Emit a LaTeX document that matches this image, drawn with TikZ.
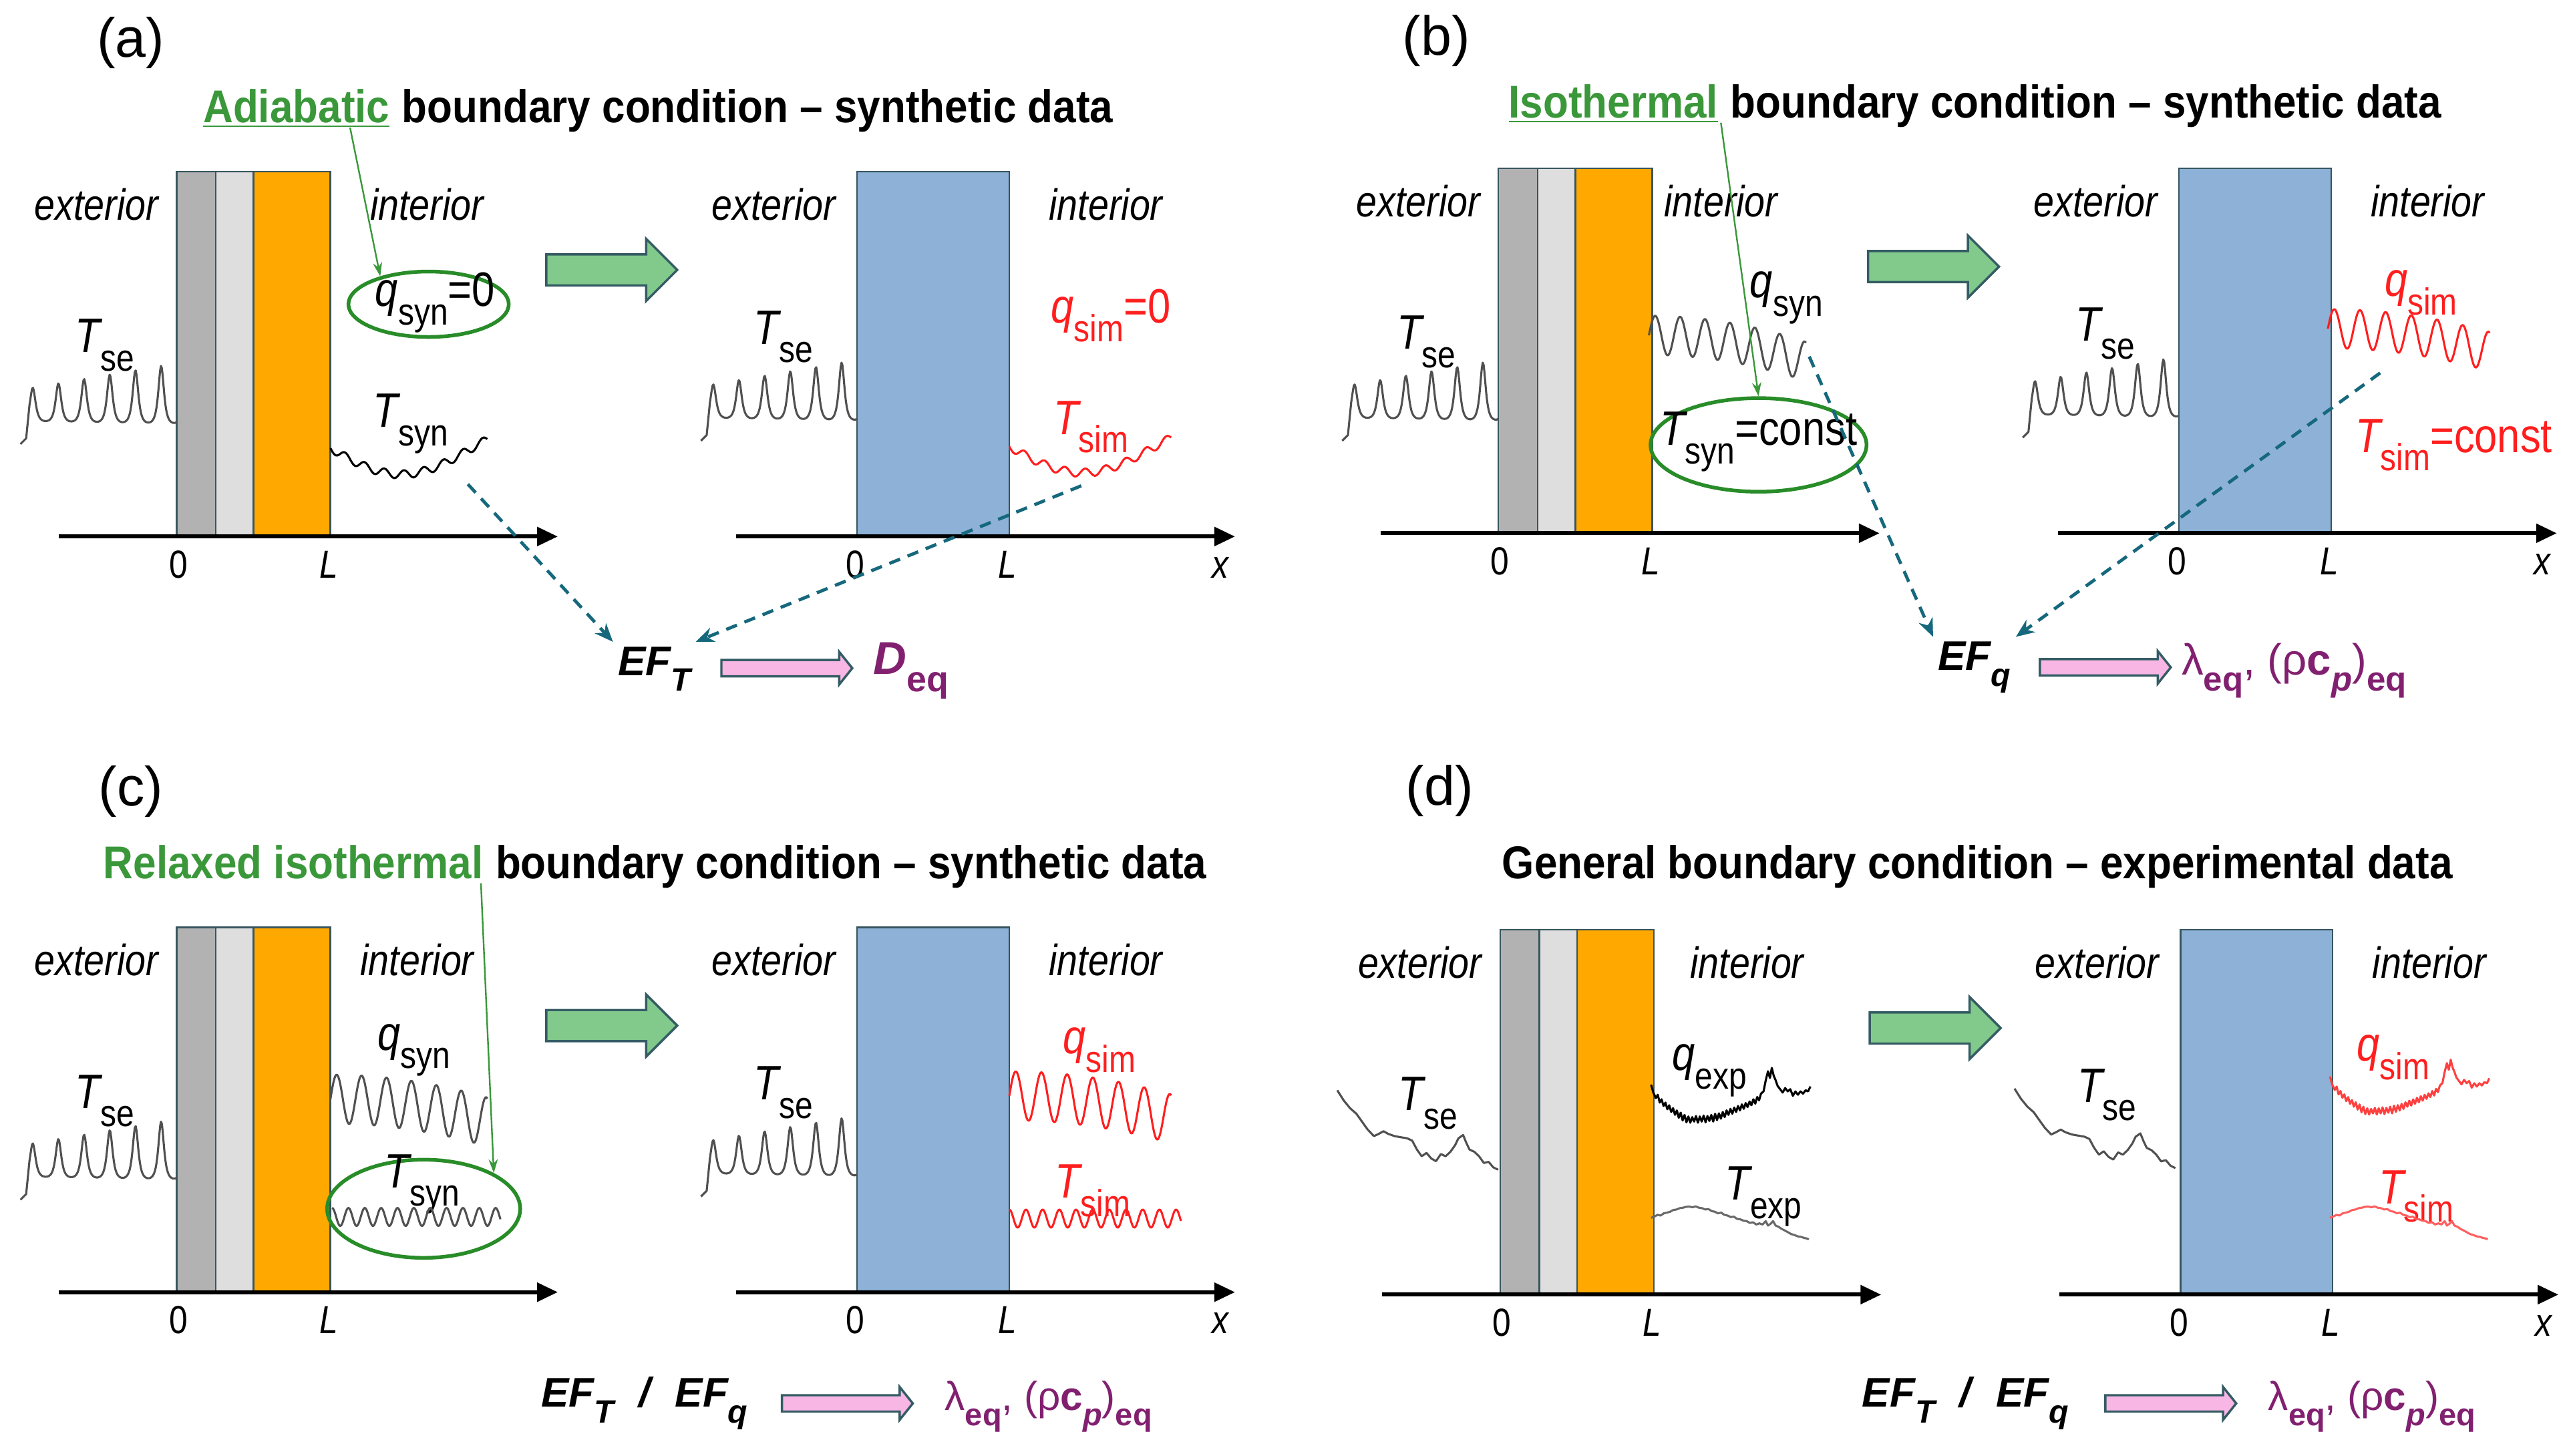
\documentclass[tikz,border=0pt]{standalone}
\usepackage{fontspec}
\usepackage{graphicx}
\setmainfont{Liberation Sans}
\newfontfamily\nfont{Liberation Sans}[FakeStretch=0.85]
\newfontfamily\tfont{Liberation Sans}[FakeStretch=0.9]
\usetikzlibrary{arrows.meta,shapes.geometric,calc}

\definecolor{ttgreen}{RGB}{58,152,58}
\definecolor{ellgreen}{RGB}{40,140,40}
\definecolor{barrowfill}{RGB}{130,201,140}
\definecolor{arrowedge}{RGB}{52,92,100}
\definecolor{wallorange}{RGB}{255,168,0}
\definecolor{wallgray}{RGB}{178,178,178}
\definecolor{walldot}{RGB}{222,222,222}
\definecolor{wallblue}{RGB}{141,177,215}
\definecolor{wallline}{RGB}{55,85,95}
\definecolor{simred}{RGB}{255,30,30}
\definecolor{simredlight}{RGB}{255,95,95}
\definecolor{sigray}{RGB}{80,80,80}
\definecolor{expgray}{RGB}{105,105,105}
\definecolor{dashteal}{RGB}{22,104,124}
\definecolor{pinkfill}{RGB}{247,182,228}
\definecolor{eqpurple}{RGB}{130,32,112}

\newcommand\sub[1]{\raisebox{-0.38em}{\scalebox{0.78}{#1}}}
\newcommand\var[2]{{\itshape #1}\sub{#2}}
\newcommand\EFx[1]{{\bfseries\itshape EF}\sub{\bfseries\itshape #1}}
\newcommand\lamtext{λ\sub{\bfseries eq}, (ρ{\bfseries c}\sub{\bfseries\itshape p})\sub{\bfseries eq}}
\newcommand\barrow[7]{\draw[#1] (#2,#4-#5) -- (#3-#7,#4-#5) -- (#3-#7,#4-#6) -- (#3,#4) -- (#3-#7,#4+#6) -- (#3-#7,#4+#5) -- (#2,#4+#5) -- cycle;}
\newcommand\synTse{%
  \draw[sig] (12.5,271.5) -- (16,268) -- plot[domain=18:108,samples=170] (\x,{259+0.03*(\x-20)-(22+0.2*(\x-20))/((1+1.3*(1-cos(22.93*(\x-20))))^2)});
  \begin{scope}[shift={(416,-2)}]
    \draw[sig] (12.5,271.5) -- (16,268) -- plot[domain=18:108,samples=170] (\x,{259+0.03*(\x-20)-(22+0.2*(\x-20))/((1+1.3*(1-cos(22.93*(\x-20))))^2)});
  \end{scope}}
\newcommand\panelbase[1]{%
  \fill[wallgray] (108,105) rectangle (132,328);
  \fill[walldot] (132,105) rectangle (155,328);
  \fill[wallorange] (155,105) rectangle (202,328);
  \draw[wallrect] (108,105) rectangle (202,328) (132,105) -- (132,328) (155,105) -- (155,328);
  \fill[wallblue] (524,105) rectangle (617,328);
  \draw[wallrect] (524,105) rectangle (617,328);
  \draw[axisline] (36,328) -- (341,328);
  \draw[axisline] (450,328) -- (755,328);
  \node[tick] (z1) at (109,345) {0};
  \node[tick] (l1) at (201,345) {\itshape L};
  \node[tick] (z2) at (523,345) {0};
  \node[tick] (l2) at (616,345) {\itshape L};
  \node[tick] (x2) at (746,347) {\itshape x};
  \node[side] (ext1) at (59,125) {exterior};
  \node[side] (int1) at (#1,125) {interior};
  \node[side] (ext2) at (473,125) {exterior};
  \node[side] (int2) at (676,125) {interior};
  \node[lab] (tse1) at (64,211) {\var{T}{se}};
  \node[lab] (tse2) at (479,206) {\var{T}{se}};
  \barrow{blockarrow}{334}{414}{165}{9.5}{19}{19}}

\newcommand\TseExpDraw{\draw[sig] (40,195) -- (60,240) -- (80,275) -- (100,300) -- (115,330) -- (135,370) -- (155,400) -- (170,390) -- (185,378) -- (200,390) -- (220,400) -- (240,405) -- (260,410) -- (275,420) -- (290,460) -- (305,490) -- (320,475) -- (335,500) -- (350,512) -- (365,480) -- (380,490) -- (395,470) -- (410,440) -- (420,410) -- (435,395) -- (445,430) -- (455,460) -- (470,470) -- (485,490) -- (500,520) -- (515,515) -- (530,540) -- (545,550);}
\newcommand\qExpDraw[1]{\draw[line width=0.9pt, line join=round, #1] (1025,170) -- (1032,205) -- (1040,230) -- (1046,215) -- (1052,250) -- (1058,235) -- (1064,265) -- (1070,250) -- (1076,280) -- (1082,262) -- (1088,292) -- (1094,275) -- (1100,305) -- (1106,285) -- (1112,318) -- (1118,295) -- (1124,330) -- (1130,305) -- (1136,338) -- (1142,312) -- (1148,340) -- (1154,315) -- (1160,335) -- (1166,310) -- (1172,340) -- (1178,312) -- (1184,335) -- (1190,308) -- (1196,338) -- (1202,310) -- (1208,332) -- (1214,305) -- (1220,335) -- (1226,300) -- (1232,328) -- (1238,298) -- (1244,322) -- (1250,292) -- (1256,315) -- (1262,285) -- (1268,305) -- (1274,278) -- (1280,300) -- (1286,272) -- (1292,292) -- (1298,265) -- (1304,285) -- (1310,258) -- (1316,278) -- (1322,252) -- (1328,270) -- (1334,245) -- (1340,262) -- (1346,235) -- (1352,255) -- (1358,225) -- (1364,240) -- (1370,210) -- (1378,200) -- (1385,150) -- (1392,110) -- (1398,140) -- (1404,95) -- (1410,130) -- (1416,150) -- (1422,175) -- (1430,190) -- (1438,205) -- (1446,185) -- (1454,200) -- (1462,190) -- (1470,220) -- (1478,200) -- (1486,215) -- (1494,200) -- (1502,210) -- (1510,195) -- (1518,200) -- (1525,178);}
\newcommand\TExpDraw[1]{\draw[line width=0.9pt, line join=round, #1] (1025,765) -- (1035,760) -- (1045,752) -- (1055,755) -- (1065,745) -- (1075,742) -- (1085,738) -- (1095,730) -- (1105,728) -- (1115,722) -- (1125,720) -- (1135,716) -- (1145,715) -- (1155,718) -- (1165,714) -- (1175,720) -- (1185,722) -- (1195,728) -- (1205,726) -- (1215,735) -- (1225,738) -- (1235,745) -- (1245,742) -- (1255,752) -- (1265,755) -- (1275,762) -- (1285,760) -- (1295,770) -- (1305,772) -- (1315,778) -- (1325,780) -- (1335,788) -- (1345,785) -- (1355,795) -- (1365,790) -- (1375,795) -- (1385,780) -- (1392,800) -- (1400,792) -- (1408,780) -- (1416,800) -- (1425,805) -- (1435,815) -- (1445,822) -- (1455,830) -- (1465,838) -- (1475,842) -- (1485,848) -- (1495,850) -- (1505,855) -- (1515,858) -- (1520,862);}

\tikzset{
  lab/.style={font=\nfont\fontsize{21}{23}\selectfont, inner sep=1pt},
  side/.style={font=\nfont\itshape\fontsize{19}{21}\selectfont, inner sep=1pt},
  tick/.style={font=\nfont\fontsize{17}{19}\selectfont, inner sep=1pt},
  title/.style={font=\tfont\bfseries\fontsize{20}{22}\selectfont, inner sep=0pt, anchor=base west},
  panlab/.style={font=\fontsize{24}{26}\selectfont, inner sep=1pt},
  eflab/.style={font=\fontsize{18}{20}\selectfont, inner sep=2pt},
  reslab/.style={font=\fontsize{19}{21}\selectfont, text=eqpurple, inner sep=1pt},
  sig/.style={line width=0.9pt, sigray, line join=round},
  simsig/.style={line width=0.9pt, simred, line join=round},
  axisline/.style={line width=1.8pt, -{Triangle[length=9pt,width=8pt]}},
  wallrect/.style={draw=wallline, line width=0.7pt},
  blockarrow/.style={fill=barrowfill, draw=arrowedge, line width=1pt, line join=miter},
  pinkarrow/.style={fill=pinkfill, draw=arrowedge, line width=1pt},
  dasharr/.style={dashteal, line width=1.4pt, dash pattern=on 5pt off 3.5pt, -{Stealth[length=8pt,width=6.5pt]}},
  greenptr/.style={ttgreen, line width=0.7pt, -{Stealth[length=6pt,width=4pt]}},
  condell/.style={ellipse, draw=ellgreen, line width=1.6pt, inner sep=0pt}
}

\begin{document}
\begin{tikzpicture}[x=0.025cm,y=-0.025cm]
\useasboundingbox (0,0) rectangle (1568,890);

% ---------------- panel (a)
\begin{scope}[name prefix=a-]
  \panelbase{261}
  \synTse
  \node[panlab] (plab) at (80,26) {(a)};
  \node[title,text=ttgreen] (t1) at (124,75) {\underline{Adiabatic}};
  \node[title] (t2) at (t1.base east) {\ boundary condition – synthetic data};
  \node[condell, minimum width=2.45cm, minimum height=1.0cm] (ell) at (262,186) {};
  \node[lab] (qsyn) at (266,185) {\var{q}{syn}=0};
  \coordinate (gs) at (214,78);
  \draw[greenptr] (gs) -- (ell.150);
  \draw[line width=0.9pt, black, line join=round] plot[domain=0:1,samples=140] ({202+96*\x},{274+16*sin(200*\x)+2.5*sin(360*8*\x)});
  \node[lab] (tsyn) at (251,259) {\var{T}{syn}};
  \node[lab,text=simred] (qsim) at (679,193) {\var{q}{sim}=0};
  \draw[simsig] plot[domain=0:1,samples=140] ({617+99*\x},{273+16*sin(200*\x)+2.5*sin(360*8*\x)});
  \node[lab,text=simred] (tsim) at (667,261) {\var{T}{sim}};
  \node[eflab] (ef) at (400,409) {\EFx{T}};
  \barrow{pinkarrow}{441}{521}{408.5}{5}{10}{8}
  \node[reslab,font=\fontsize{20}{22}\selectfont] (deq) at (557,410) {{\bfseries\itshape D}\sub{\bfseries eq}};
  \coordinate (d1) at (286,296);
  \coordinate (d2) at (661,297);
  \draw[dasharr] (d1) -- (ef.north west);
  \draw[dasharr] (d2) -- (ef.north east);
\end{scope}

% ---------------- panel (b)
\begin{scope}[shift={(808,-2)},name prefix=b-]
  \panelbase{244}
  \synTse
  \node[panlab] (plab) at (70,27) {(b)};
  \node[title,text=ttgreen] (t1) at (114,74) {\underline{Isothermal}};
  \node[title] (t2) at (t1.base east) {\ boundary condition – synthetic data};
  \draw[sig] plot[domain=0:1,samples=160] ({200+96*\x},{207+16*\x*\x-12*sin(360*6.3*\x)});
  \node[lab] (qsyn) at (284,184) {\var{q}{syn}};
  \node[condell, minimum width=3.3cm, minimum height=1.43cm] (ell) at (267,274) {};
  \node[lab] (tsyn) at (267,272) {\var{T}{syn}=const};
  \coordinate (gs) at (244,77);
  \draw[greenptr] (gs) -- (ell.north);
  \draw[simsig] plot[domain=0:1,samples=160] ({615+99*\x},{203+14*\x*\x-12*sin(360*6.3*\x)});
  \node[lab,text=simred] (qsim) at (672,181) {\var{q}{sim}};
  \node[lab,text=simred] (tsim) at (692,274) {\var{T}{sim}=const};
  \node[eflab] (ef) at (399,410) {\EFx{q}};
  \barrow{pinkarrow}{439}{519}{410}{5}{10}{8}
  \node[reslab,anchor=west] (res) at (524,412) {\lamtext};
  \coordinate (d1) at (298,220);
  \coordinate (d2) at (647,230);
  \draw[dasharr] (d1) -- (ef.north west);
  \draw[dasharr] (d2) -- (ef.north east);
\end{scope}

% ---------------- panel (c)
\begin{scope}[shift={(0,462)},name prefix=c-]
  \panelbase{255}
  \synTse
  \node[panlab] (plab) at (80,22) {(c)};
  \node[title,text=ttgreen] (t1) at (63,75) {Relaxed isothermal};
  \node[title] (t2) at (t1.base east) {\ boundary condition – synthetic data};
  \draw[sig] plot[domain=0:1,samples=160] ({202+96*\x},{210+14*\x*\x-15*sin(360*6.3*\x)});
  \node[lab] (qsyn) at (253,180) {\var{q}{syn}};
  \node[condell, minimum width=2.95cm, minimum height=1.5cm] (ell) at (259,277) {};
  \node[lab] (tsyn) at (258,262) {\var{T}{syn}};
  \draw[sig] plot[domain=0:1,samples=220] ({203+103*\x},{282-5.5*cos(360*10.3*\x)});
  \coordinate (gs) at (294,78);
  \draw[greenptr] (gs) -- (ell.27);
  \draw[simsig] plot[domain=0:1,samples=160] ({617+99*\x},{208+14*\x*\x-15*sin(360*6.3*\x)});
  \node[lab,text=simred] (qsim) at (672,180) {\var{q}{sim}};
  \draw[simsig] plot[domain=0:1,samples=220] ({617+105*\x},{283-5.5*cos(360*10.3*\x)});
  \node[lab,text=simred] (tsim) at (668,266) {\var{T}{sim}};
  \node[eflab] (ef) at (394,396) {\EFx{T}\hspace{0.6em}{\bfseries\itshape /}\hspace{0.6em}\EFx{q}};
  \barrow{pinkarrow}{478}{558}{396}{5}{10}{8}
  \node[reslab,anchor=west,font=\fontsize{17.5}{20}\selectfont] (res) at (576,398) {\lamtext};
\end{scope}

% ---------------- panel (d)
\begin{scope}[shift={(809,463.5)},name prefix=d-]
  \panelbase{259}
  \node[panlab] (plab) at (71,20) {(d)};
  \node[title] (t1) at (109,73.5) {General boundary condition – experimental data};
  \node[lab] (qexp) at (236,191) {\var{q}{exp}};
  \node[lab] (texp) at (269,268) {\var{T}{exp}};
  \node[lab,text=simred] (qsim) at (654,183) {\var{q}{sim}};
  \node[lab,text=simred] (tsim) at (668,268) {\var{T}{sim}};
  \node[eflab] (ef) at (392.5,394.5) {\EFx{T}\hspace{0.6em}{\bfseries\itshape /}\hspace{0.6em}\EFx{q}};
  \barrow{pinkarrow}{478}{558}{394.5}{5}{10}{8}
  \node[reslab,anchor=west,font=\fontsize{17.5}{20}\selectfont] (res) at (576,396.5) {\lamtext};
\end{scope}

% experimental-type signals of panel (d)
\begin{scope}[shift={(809.7,639.9)},x=0.00486cm,y=-0.003425cm]
  \TseExpDraw
  \qExpDraw{black}
  \TExpDraw{expgray}
\end{scope}
\begin{scope}[shift={(1223.7,638.9)},x=0.00486cm,y=-0.003425cm]
  \TseExpDraw
\end{scope}
\begin{scope}[shift={(1224.7,634.9)},x=0.00486cm,y=-0.003425cm]
  \qExpDraw{simred!85}
\end{scope}
\begin{scope}[shift={(1224.7,639.9)},x=0.00486cm,y=-0.003425cm]
  \TExpDraw{simredlight}
\end{scope}
\end{tikzpicture}
\end{document}
